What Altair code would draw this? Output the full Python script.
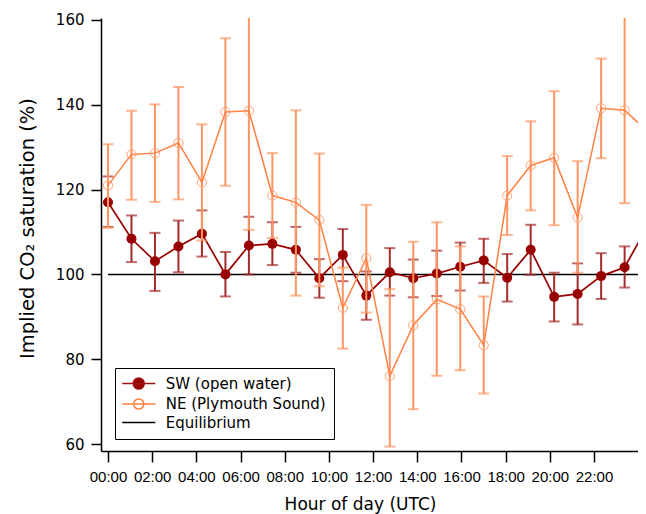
import altair as alt
import pandas as pd

# ---------------- data ----------------
sample_index = list(range(24))
tick_hours = [0, 2, 4, 6, 8, 10, 12, 14, 16, 18, 20, 22]
# axis hours are drawn slightly narrower than sample spacing in the reference
hour_to_index = 22.09 / 23.48

sw_val = [117.0, 108.4, 103.1, 106.6, 109.6, 100.0, 106.8, 107.2, 105.8, 99.1, 104.6, 95.0,
          100.5, 99.1, 100.2, 101.8, 103.3, 99.2, 105.8, 94.7, 95.4, 99.6, 101.7, 111.6]
sw_hi = [123.1, 113.9, 109.8, 112.7, 115.1, 105.3, 113.6, 112.3, 111.2, 103.6, 110.7, 100.7,
         106.2, 103.5, 105.6, 107.5, 108.4, 104.8, 111.7, 100.4, 102.6, 105.0, 106.6, 117.7]
sw_lo = [111.2, 102.9, 96.1, 100.5, 104.2, 94.8, 100.0, 102.2, 100.4, 94.5, 98.4, 89.3,
         95.0, 94.6, 94.9, 96.2, 98.0, 93.6, 99.9, 88.9, 88.2, 94.2, 96.9, 105.5]

ne_val = [121.0, 128.3, 128.6, 131.0, 121.7, 138.3, 138.6, 118.6, 117.0, 112.8, 92.1, 103.8,
          76.0, 88.0, 94.1, 91.8, 83.3, 118.6, 125.7, 127.5, 113.4, 139.2, 138.7, 133.6]
ne_hi = [130.7, 138.6, 140.1, 144.2, 135.4, 155.7, 167.0, 128.6, 138.7, 128.5, 101.6, 116.4,
         96.5, 107.7, 112.3, 106.6, 94.8, 127.9, 136.1, 143.2, 126.7, 150.9, 162.0, 154.2]
ne_lo = [111.0, 117.6, 117.1, 117.7, 108.0, 120.9, 110.5, 108.6, 95.0, 97.2, 82.5, 91.0,
         59.4, 68.2, 76.1, 77.4, 71.9, 109.3, 115.1, 111.6, 100.4, 127.4, 116.8, 112.7]

series_names = ["SW (open water)", "NE (Plymouth Sound)", "Equilibrium"]
equilibrium_x = [0, 23]
equilibrium_level = [100, 100]
y_ticks = [60, 80, 100, 120, 140, 160]

# ---------------- styling ----------------
SW_COLOR = "#990000"
SW_BAR = "#a52a2a"
NE_LINE = "#ff8040"
NE_POINT = "#ffa075"
NE_BAR = "#ff9560"

sw = pd.DataFrame({"idx": sample_index, "val": sw_val, "lo": sw_lo, "hi": sw_hi})
ne = pd.DataFrame({"idx": sample_index, "val": ne_val, "lo": ne_lo, "hi": ne_hi})
eq = pd.DataFrame({"idx": equilibrium_x, "val": equilibrium_level})
legend_df = pd.DataFrame({"idx": [0, 0, 0], "val": [0, 0, 0], "series": series_names})

x_scale = alt.Scale(domain=[-0.298, 22.57], nice=False, zero=False)
y_scale = alt.Scale(domain=[58.35, 160.47], nice=False, zero=False)

lbl = "round(datum.value / %.6f)" % hour_to_index
x_axis = alt.Axis(
    values=[h * hour_to_index for h in tick_hours],
    labelExpr="(%s < 10 ? '0' : '') + %s + ':00'" % (lbl, lbl),
    title="Hour of day (UTC)",
    titleFont="DejaVu Sans", titleFontSize=17, titleFontWeight="normal", titleColor="black",
    titleX=259, titleY=58.5, titleAlign="center", titleBaseline="alphabetic",
    labelFont="Liberation Sans", labelFontSize=15, labelColor="black", labelPadding=7,
    labelFlush=False, labelOverlap=False,
    tickSize=11, tickWidth=1.5, tickColor="black",
    domainColor="black", domainWidth=1.5, grid=False,
)
y_axis = alt.Axis(
    values=y_ticks, format="d",
    title="Implied CO₂ saturation (%)",
    titleFont="DejaVu Sans", titleFontSize=19.5, titleFontWeight="normal", titleColor="black",
    titleAngle=270, titleX=-68, titleY=210, titleAlign="center", titleBaseline="alphabetic",
    labelFont="DejaVu Sans", labelFontSize=15, labelColor="black", labelPadding=7,
    tickSize=10, tickWidth=1.5, tickColor="black",
    domainColor="black", domainWidth=1.5, grid=False,
)

X = alt.X("idx:Q", scale=x_scale, axis=x_axis)


def Y(field):
    return alt.Y(field, type="quantitative", scale=y_scale, axis=y_axis)


def error_layers(df, color):
    bars = alt.Chart(df).mark_rule(clip=True, strokeWidth=2, color=color).encode(
        x=X, y=Y("lo"), y2="hi")
    caps = alt.Chart(df).transform_fold(["lo", "hi"], as_=["end", "endval"]).mark_tick(
        orient="horizontal", size=11, thickness=2, clip=True, color=color
    ).encode(x=X, y=Y("endval"))
    return bars + caps


eq_line = alt.Chart(eq).mark_line(color="black", strokeWidth=1.5, clip=True).encode(x=X, y=Y("val"))

sw_layers = error_layers(sw, SW_BAR) + \
    alt.Chart(sw).mark_line(color=SW_COLOR, strokeWidth=1.7, clip=True).encode(x=X, y=Y("val")) + \
    alt.Chart(sw).mark_point(filled=True, size=100, color=SW_COLOR, opacity=1).encode(x=X, y=Y("val"))

ne_layers = error_layers(ne, NE_BAR) + \
    alt.Chart(ne).mark_line(color=NE_LINE, strokeWidth=1.5, clip=True).encode(x=X, y=Y("val")) + \
    alt.Chart(ne).mark_point(filled=False, size=85, color=NE_POINT, strokeWidth=1, opacity=1).encode(x=X, y=Y("val"))

# legend symbols: line with marker (custom paths, unit = sqrt(size)/2 px)
path_sw = "M-2.75,0L2.75,0M0.92,0A0.92,0.92,0,1,1,-0.92,0A0.92,0.92,0,1,1,0.92,0Z"
path_ne = "M-2.75,0L2.75,0M0.85,0A0.85,0.85,0,1,1,-0.85,0A0.85,0.85,0,1,1,0.85,0Z"
path_eq = "M-2.75,0L2.75,0"

legend = alt.Legend(
    title=None, orient="none", legendX=14, legendY=350, padding=8,
    strokeColor="black", fillColor="white",
    symbolSize=144, symbolStrokeWidth=1.5, symbolOffset=8.25, labelOffset=19.5,
    labelFont="DejaVu Sans", labelFontSize=15, labelColor="black", rowPadding=2.5,
    labelLimit=400,
)
legend_layer = alt.Chart(legend_df).mark_point(size=144, strokeWidth=1.5, clip=True, opacity=1).encode(
    x=X, y=Y("val"),
    shape=alt.Shape("series:N", scale=alt.Scale(domain=series_names, range=[path_sw, path_ne, path_eq]), legend=legend),
    stroke=alt.Stroke("series:N", scale=alt.Scale(domain=series_names, range=["#a01010", NE_LINE, "black"]), legend=legend),
    fill=alt.Fill("series:N", scale=alt.Scale(domain=series_names, range=[SW_COLOR, "transparent", "transparent"]), legend=legend),
)

chart = alt.layer(eq_line, sw_layers, ne_layers, legend_layer).properties(
    width=537, height=433,
    padding={"left": 93, "top": 10, "right": 0, "bottom": 63},
    autosize=alt.AutoSizeParams(type="none"),
    background="white",
).configure_view(strokeWidth=0)

chart.save("out.html", embed_options={"renderer": "svg", "actions": False})
